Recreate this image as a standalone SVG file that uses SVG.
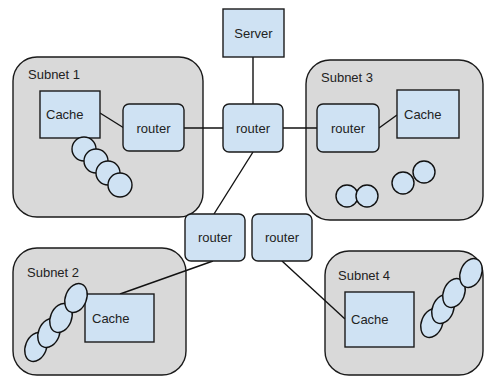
<svg xmlns="http://www.w3.org/2000/svg" width="485" height="378" viewBox="0 0 485 378">
  <style>
    .subnet { fill: #d9d9d9; stroke: #1a1a1a; stroke-width: 1.4; }
    .box { fill: #cfe2f3; stroke: #1a1a1a; stroke-width: 1.4; }
    .host { fill: #cfe2f3; stroke: #111; stroke-width: 1.4; }
    .wire { stroke: #111; stroke-width: 1.4; fill: none; }
    text { font-family: "Liberation Sans", Arial, sans-serif; font-size: 13px; fill: #222; }
  </style>
  <rect width="485" height="378" fill="#ffffff"/>

  <!-- subnet regions -->
  <g id="subnet1">
    <rect class="subnet" x="13" y="57" width="190" height="160" rx="24"/>
    <text x="28" y="79">Subnet 1</text>
  </g>
  <g id="subnet3">
    <rect class="subnet" x="306" y="60" width="177" height="160" rx="24"/>
    <text x="321" y="82">Subnet 3</text>
  </g>
  <g id="subnet2">
    <rect class="subnet" x="13" y="248" width="173" height="127" rx="24"/>
    <text x="27" y="277">Subnet 2</text>
  </g>
  <g id="subnet4">
    <rect class="subnet" x="325" y="251" width="158" height="124" rx="24"/>
    <text x="338" y="280">Subnet 4</text>
  </g>

  <!-- links -->
  <g id="connectors">
    <line class="wire" x1="253" y1="57" x2="253" y2="104"/>
    <line class="wire" x1="184" y1="128" x2="223" y2="128"/>
    <line class="wire" x1="283" y1="128" x2="317" y2="128"/>
    <line class="wire" x1="100" y1="113" x2="124" y2="128"/>
    <line class="wire" x1="379" y1="128" x2="397" y2="115"/>
    <line class="wire" x1="253" y1="152" x2="214" y2="214"/>
    <line class="wire" x1="213" y1="261" x2="120" y2="294"/>
    <line class="wire" x1="282" y1="261" x2="345" y2="319"/>
  </g>

  <!-- server and routers -->
  <g id="server">
    <rect class="box" x="223" y="9" width="61" height="48"/>
    <text x="253.5" y="38" text-anchor="middle">Server</text>
  </g>
  <g id="router-core">
    <rect class="box" x="223" y="104" width="60" height="48" rx="6"/>
    <text x="253" y="133" text-anchor="middle">router</text>
  </g>
  <g id="router-subnet1">
    <rect class="box" x="123" y="104" width="61" height="47" rx="6"/>
    <text x="153.5" y="133" text-anchor="middle">router</text>
  </g>
  <g id="router-subnet3">
    <rect class="box" x="317" y="104" width="62" height="48" rx="6"/>
    <text x="348" y="133" text-anchor="middle">router</text>
  </g>
  <g id="router-subnet2">
    <rect class="box" x="185" y="214" width="60" height="47" rx="6"/>
    <text x="215" y="242" text-anchor="middle">router</text>
  </g>
  <g id="router-subnet4">
    <rect class="box" x="252" y="214" width="60" height="47" rx="6"/>
    <text x="282" y="242" text-anchor="middle">router</text>
  </g>

  <!-- caches -->
  <g id="cache1">
    <rect class="box" x="40" y="91" width="60" height="47"/>
    <text x="46" y="119">Cache</text>
  </g>
  <g id="cache3">
    <rect class="box" x="397" y="90" width="62" height="48"/>
    <text x="404" y="119">Cache</text>
  </g>
  <g id="cache2">
    <rect class="box" x="85" y="294" width="69" height="48"/>
    <text x="92" y="323">Cache</text>
  </g>
  <g id="cache4">
    <rect class="box" x="345" y="292" width="69" height="55"/>
    <text x="351" y="324">Cache</text>
  </g>

  <!-- hosts -->
  <g id="hosts-subnet1">
    <circle class="host" cx="84" cy="149" r="12"/>
    <circle class="host" cx="96" cy="161" r="12"/>
    <circle class="host" cx="108" cy="173" r="12"/>
    <circle class="host" cx="120" cy="185" r="12"/>
  </g>
  <g id="hosts-subnet3">
    <circle class="host" cx="347" cy="196" r="11"/>
    <circle class="host" cx="367" cy="196" r="11"/>
    <circle class="host" cx="403" cy="183" r="11"/>
    <circle class="host" cx="424" cy="172" r="11"/>
  </g>
  <g id="hosts-subnet2">
    <ellipse class="host" cx="36" cy="347" rx="10.5" ry="15" transform="rotate(22 36 347)"/>
    <ellipse class="host" cx="49" cy="333" rx="10.5" ry="15" transform="rotate(22 49 333)"/>
    <ellipse class="host" cx="61" cy="318" rx="10.5" ry="15" transform="rotate(22 61 318)"/>
    <ellipse class="host" cx="76" cy="298" rx="10.5" ry="15" transform="rotate(22 76 298)"/>
  </g>
  <g id="hosts-subnet4">
    <ellipse class="host" cx="432" cy="323" rx="10.5" ry="15" transform="rotate(22 432 323)"/>
    <ellipse class="host" cx="443" cy="309" rx="10.5" ry="15" transform="rotate(22 443 309)"/>
    <ellipse class="host" cx="454" cy="293" rx="10.5" ry="15" transform="rotate(22 454 293)"/>
    <ellipse class="host" cx="471" cy="273" rx="10.5" ry="15" transform="rotate(22 471 273)"/>
  </g>
</svg>
